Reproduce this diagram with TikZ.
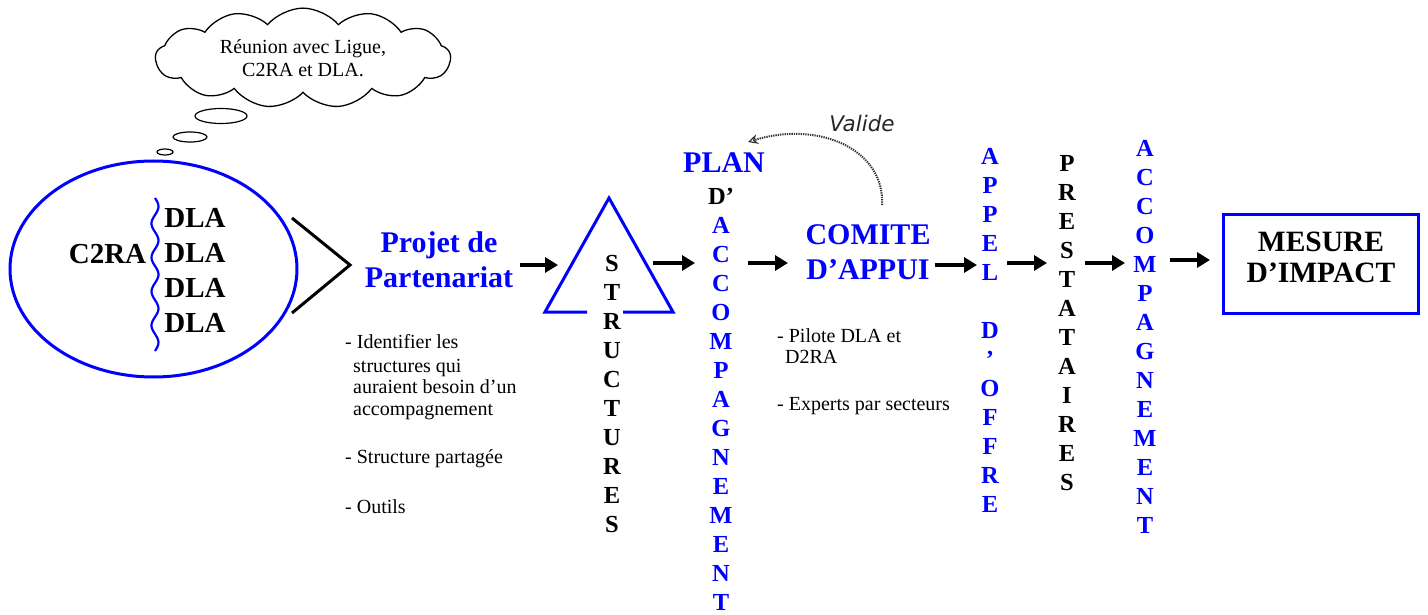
\documentclass[tikz,border=0pt]{standalone}
\usepackage{fontspec}
\setmainfont{Liberation Serif}
\newfontfamily\valfont{DejaVu Sans}
\usetikzlibrary{shapes.symbols,shapes.geometric,arrows.meta}
\definecolor{bl}{RGB}{0,0,255}
\tikzset{
  arr/.style={line width=3.5pt,-{Triangle[length=13pt,width=15pt]}},
  head/.style={font=\fontsize{30}{35}\selectfont\bfseries,align=center,inner sep=0pt},
  vert/.style={font=\fontsize{24.5}{29}\selectfont\bfseries,align=center,inner sep=0pt},
  small/.style={font=\fontsize{20}{23}\selectfont,inner sep=0pt,anchor=base west},
  bubble/.style={draw,ellipse,line width=1.2pt,inner sep=0pt},
}
\begin{document}
\begin{tikzpicture}[x=1pt,y=-1pt]
\useasboundingbox (0,0) rectangle (1428,615);
% thought cloud
\node[cloud,draw,line width=1.3pt,cloud puffs=13,cloud puff arc=100,aspect=3.1,
  minimum width=295pt,minimum height=95pt,inner sep=0pt,align=center,
  font=\fontsize{20}{23}\selectfont] (cloud) at (303,58) {Réunion avec Ligue,\\C2RA et DLA.};
\node[bubble,minimum width=52pt,minimum height=15pt] (b1) at (221,116) {};
\node[bubble,minimum width=34pt,minimum height=10pt] (b2) at (190,137) {};
\node[bubble,minimum width=16pt,minimum height=6pt] (b3) at (165,152) {};
% big ellipse
\node[draw=bl,ellipse,line width=3pt,minimum width=287pt,minimum height=216pt] (ell) at (153.5,269) {};
\draw[bl,line width=2.2pt] plot[smooth,domain=0:153,samples=70] ({155+3.5*sin(\x*10.588)},{198+\x});
\node[font=\fontsize{29}{35}\selectfont\bfseries,anchor=base,inner sep=0pt] (c2ra) at (107.5,263) {C2RA};
\node[font=\fontsize{29}{35}\selectfont\bfseries,align=center,inner sep=0pt] (dla) at (195,270) {DLA\\DLA\\DLA\\DLA};
% chevron
\draw[line width=3pt,line join=miter] (292,218) -- (350,265) -- (292,313);
% projet
\node[head,text=bl] (projet) at (439,260) {Projet de\\Partenariat};
\node[small] (p1) at (345,348) {- Identifier les};
\node[small] (p2) at (353,372) {structures qui};
\node[small] (p3) at (353,393) {auraient besoin d’un};
\node[small] (p4) at (353,415) {accompagnement};
\node[small] (p5) at (345,463) {- Structure partagée};
\node[small] (p6) at (345,513) {- Outils};
% triangle
\draw[bl,line width=3pt,line join=miter] (587,312) -- (545,312) -- (609,198) -- (673,312) -- (623,312);
\node[vert] (struct) at (612,394) {S\\T\\R\\U\\C\\T\\U\\R\\E\\S};
% plan
\node[font=\fontsize{30}{35}\selectfont\bfseries,text=bl,anchor=base,inner sep=0pt] (plan) at (724,173) {PLAN};
\node[vert,text=bl] (planacc) at (721,399.5) {\textcolor{black}{D’}\\A\\C\\C\\O\\M\\P\\A\\G\\N\\E\\M\\E\\N\\T};
% valide
\node[font=\valfont\itshape\fontsize{21.5}{24}\selectfont,anchor=base,text=black!85,inner sep=0pt] (valide) at (862,132) {Valide};
\coordinate (vs) at (882,205);
\coordinate (vt) at (748,142);
\draw[line width=2pt,black!80,dash pattern=on 1.3pt off 1pt,-{Stealth[open,length=10pt,width=10pt,line width=1.2pt]}]
  (vs) .. controls (885,150) and (820,120) .. (vt);
% comite
\node[head,text=bl] (comite) at (868,252.5) {COMITE\\D’APPUI};
\node[small] (c1) at (777,342) {- Pilote DLA et};
\node[small] (c2) at (785,363) {D2RA};
\node[small] (c3) at (777,410) {- Experts par secteurs};
% columns
\node[vert,text=bl] (appel) at (990,330) {A\\P\\P\\E\\L\\[29pt]D\\’\\O\\F\\F\\R\\E};
\node[vert] (prest) at (1067,323) {P\\R\\E\\S\\T\\A\\T\\A\\I\\R\\E\\S};
\node[vert,text=bl] (accomp) at (1145,336.5) {A\\C\\C\\O\\M\\P\\A\\G\\N\\E\\M\\E\\N\\T};
% box
\node[draw=bl,line width=3.5pt,minimum width=195pt,minimum height=99pt,inner sep=0pt] (box) at (1321,264) {};
\node[font=\fontsize{29.5}{31}\selectfont\bfseries,align=center,inner sep=0pt] (mesure) at (1321,257.5) {MESURE\\D’IMPACT};
% arrows
\coordinate (a1s) at (520,265); \coordinate (a1e) at (558,265);
\coordinate (a2s) at (653,263); \coordinate (a2e) at (695,263);
\coordinate (a3s) at (748,263); \coordinate (a3e) at (788,263);
\coordinate (a4s) at (935,265); \coordinate (a4e) at (977,265);
\coordinate (a5s) at (1007,263); \coordinate (a5e) at (1047,263);
\coordinate (a6s) at (1085,263); \coordinate (a6e) at (1125,263);
\coordinate (a7s) at (1170,260); \coordinate (a7e) at (1210,260);
\draw[arr] (a1s) -- (a1e);
\draw[arr] (a2s) -- (a2e);
\draw[arr] (a3s) -- (a3e);
\draw[arr] (a4s) -- (a4e);
\draw[arr] (a5s) -- (a5e);
\draw[arr] (a6s) -- (a6e);
\draw[arr] (a7s) -- (a7e);
\end{tikzpicture}
\end{document}
